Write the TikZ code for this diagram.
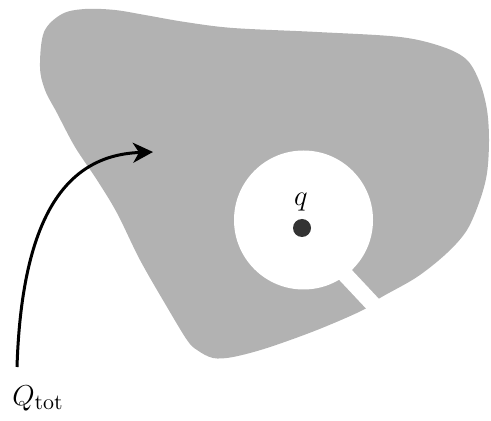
\documentclass[tikz,border=0pt]{standalone}
\usepackage{amsmath}
\usepackage{tikz}
\usetikzlibrary{arrows.meta,positioning,calc}
\definecolor{regiongray}{gray}{0.70}
\definecolor{chargegray}{gray}{0.20}

\begin{document}
\begin{tikzpicture}[x=0.5pt, y=-0.5pt,
  font=\fontsize{15}{18}\selectfont,
  reg/.style ={fill=regiongray},
  cav/.style ={fill=white},
  slot/.style={draw=white, line width=8pt},
  chg/.style ={circle, fill=chargegray, inner sep=0pt, minimum size=9pt},
  fl/.style  ={-{Stealth[length=10pt,width=10pt,inset=3pt]}, line width=1.5pt},
  lab/.style ={inner sep=0pt}]
\useasboundingbox (0,0) rectangle (491,421);

% conductor with the cavity cut out
\fill[reg] plot[smooth cycle, tension=0.55] coordinates {
  (40,67) (44,32) (62,14) (85,9) (115,10) (145,15) (185,22) (233,28)
  (317,32) (400,37) (443,47) (467,60) (480,83) (487,110) (489,140)
  (487,173) (480,200) (467,230) (447,253) (417,277) (380,298) (363,310)
  (317,330) (267,348) (233,357) (213,358) (197,350) (187,340) (167,307)
  (140,260) (117,213) (97,180) (75,147) (57,113) (45,90)};
\coordinate (ctr) at (303.5,220);
\fill[cav] (ctr) circle (69.5);
\coordinate (s1) at (324,252);
\coordinate (s2) at (400,333);
\draw[slot] (s1) -- (s2);

\node[lab, anchor=base] (qlab) at (301,206) {$q$};
\node[chg] (chg) at (302,228) {};
\node[lab, anchor=base west] (qtot) at (12,405) {$Q_{\mathrm{tot}}$};

\coordinate (src) at (17,367);
\coordinate (tgt) at (153,152);
\draw[fl] (src) .. controls (22,210) and (70,155) .. (tgt);
\end{tikzpicture}
\end{document}
